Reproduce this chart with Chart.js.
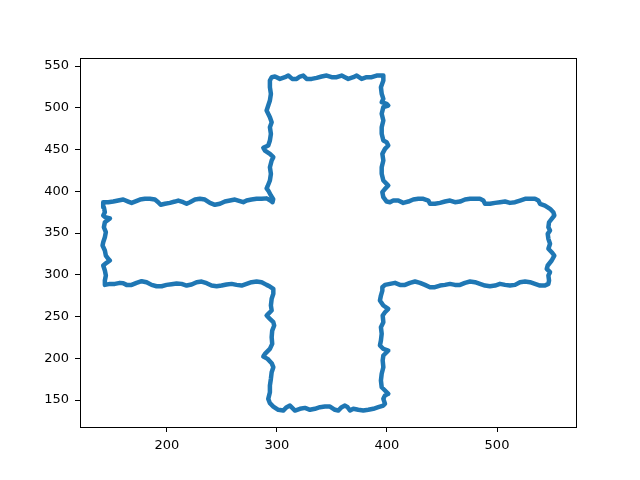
<!DOCTYPE html>
<html>
<head>
<meta charset="utf-8">
<script src="https://cdn.jsdelivr.net/npm/chart.js@4/dist/chart.umd.min.js"></script>
<style>
  html, body { margin: 0; padding: 0; background: #fff; }
  canvas { display: block; }
</style>
</head>
<body>
<canvas id="chart" width="640" height="480"></canvas>
<script>
// outline traced clockwise, one array of [x, y] per edge of the cross
const leftArmTop = [[142.1,386.9],[146.7,386.9],[151.2,387.7],[155.7,388.9],[160.3,390.1],[164.8,387.7],[167.9,386.1],[170.9,387.7],[175.5,390.1],[180,391],[184.5,391],[189.1,390.1],[192.1,386.9],[194.3,383.8],[198.2,385],[202.7,386.1],[207.3,387.7],[210.3,388.9],[214.8,386.9],[217.9,385],[220.9,386.9],[225.5,390.1],[230,391],[234.5,390.1],[239.1,386.1],[243.6,383.8],[248.2,385],[252.7,387.7],[257.3,388.9],[261.8,390.1],[264.8,388.9],[269.4,386.9],[272.4,388.9],[276.9,390.1],[281.5,391],[286.1,391],[290.6,391.5],[294,389],[296,387],[296.6,390.5],[294.5,395]];
const topArmLeft = [[292.1,400.9],[290.6,403.5],[291.5,406],[293.6,412.9],[294.5,420.9],[293.6,428.8],[295.2,436.8],[296.7,440.8],[293.6,444.8],[289.1,448.8],[287.6,452],[292.1,454.8],[293.6,460.8],[294.5,468.8],[293.6,476.7],[295.2,482.7],[293.6,488.7],[290.6,496.7],[292.1,502.7],[293.6,508.7],[294.5,516.7],[293.6,524.6],[293.6,532.6],[295.2,536.6]];
const topArmTop = [[298.2,537.4],[302.7,534.6],[307.3,536.6],[310.3,538.6],[313.9,534.6],[317.9,534.6],[320.9,537.4],[323.9,538.6],[327,534.6],[331.5,534.6],[336.1,535.8],[340.6,537.4],[345.2,538.6],[349.7,536.6],[354.3,536.6],[358.8,538.6],[361.8,536.6],[364.8,534.6],[369.4,536.6],[372.5,538.6],[377,534.6],[381.5,536.6],[386.1,536.6],[390.6,538.6],[396.7,538.6]];
const topArmRight = [[396.7,532.6],[394.5,524.6],[395.2,516.7],[396.7,510.7],[395.2,506.7],[399.7,504.7],[401.2,502.7],[396.7,500.8],[395.2,492.8],[396.7,484.7],[395.2,476.7],[395.2,468.8],[396.7,460.8],[399.7,458.8],[401.2,454.8],[398.2,450.8],[395.8,444.8],[396.7,436.8],[395.2,428.8],[395.2,420.9],[396.7,412.9],[399.7,408.9],[401.2,406.9],[398.2,402.9],[395.8,398.9],[396.7,392.9],[399.7,387.7]];
const rightArmTop = [[402.7,386.9],[405.7,388.9],[410.3,388.9],[414.8,386.1],[419.4,387.7],[423.9,390.1],[428.5,391],[433,391],[437.6,388.9],[439.1,385],[443.6,385],[448.2,386.1],[452.7,387.7],[457.3,388.9],[461.8,386.9],[466.4,387.7],[470.9,390.1],[475.5,391],[480,391],[484.5,391],[487.6,388.9],[489.1,385],[493.6,385],[498.2,386.1],[502.7,386.9],[507.3,387.7],[511.8,386.1],[516.4,386.9],[520.9,388.9],[525.5,391],[530,391],[534.5,391],[537.6,388.9],[539.1,385],[543.6,382.9],[548.2,379],[551.2,374.9],[552.1,371]];
const rightArmEnd = [[549.7,367],[547.3,362.9],[546.7,356.9],[548.2,353],[546.1,349],[546.7,343],[548.2,337.1],[546.7,331.1],[549.7,327],[552.1,323],[549.7,317.1],[546.1,311.1],[545.2,307.1],[548.2,303.1],[546.7,299.1],[547.3,293.1],[546.7,289.1],[543.6,287.1]];
const rightArmBottom = [[539.1,287.1],[534.5,289.1],[530,291.1],[525.5,291.9],[520.9,291.1],[516.4,287.9],[511.8,287.1],[507.3,287.9],[502.7,289.1],[498.2,287.1],[493.6,286.3],[489.1,287.1],[484.5,289.1],[480,291.1],[475.5,291.9],[470.9,290.3],[466.4,287.9],[461.8,287.9],[457.3,289.1],[452.7,287.9],[448.2,287.1],[443.6,285.1],[439.1,285.1],[434.5,287.9],[430,290.3],[425.5,291.9],[420.9,290.3],[416.4,287.9],[411.8,287.9],[407.3,290.3],[402.7,289.1],[398.2,287.9]];
const bottomArmRight = [[395.8,285.1],[395.8,281.1],[394.5,275.1],[393.6,269.2],[396.7,263.2],[401.2,259.2],[398.2,255.1],[396.1,251.2],[396.7,243.2],[394.5,237.2],[395.2,229.3],[394.5,221.3],[393.6,215.3],[396.7,211.3],[401.2,209.3],[399.7,207.2],[396.7,203.3],[396.1,197.3],[396.7,189.3],[395.2,181.4],[394.5,173.4],[395.2,165.3],[398.2,161.4],[401.2,157.4],[398.2,155.4],[396.7,151.4],[398.2,145.5],[396.7,143.4]];
const bottomArmBottom = [[392.1,141.4],[387.6,139.5],[383,138.3],[378.5,137.4],[373.9,138.3],[369.4,139.5],[366.4,137.4],[364.2,141.4],[361.8,143.4],[358.8,141.4],[355.7,137.4],[352.7,138.3],[348.2,142.2],[343.6,142.2],[339.1,141.4],[334.5,139.5],[330,138.3],[325.5,140.6],[320.9,139.5],[316.4,137.4],[313.9,140.6],[311.8,143.4],[308.8,141.4],[305.7,137.4],[301.2,138.3],[296.7,142.2],[293.6,146.2]];
const bottomArmLeft = [[292.1,151.4],[293.6,159.3],[293.6,167.4],[294.5,175.4],[295.2,183.3],[296.7,189.3],[295.2,194.1],[291.5,199.3],[287.6,202.1],[289.1,205.3],[293.6,211.3],[295.7,217.3],[295.2,225.2],[295.7,233.2],[297.5,239.2],[296.7,243.2],[293.6,247.2],[290.6,251.2],[292.1,253.2],[295.2,257.2],[294.5,263.2],[295.2,271.2],[296.7,277.2],[296.7,283.2],[293.6,285.9]];
const leftArmBottom = [[290.6,287.9],[286.1,291.1],[281.5,291.9],[276.9,291.1],[272.4,289.1],[267.9,287.1],[263.3,287.9],[258.8,289.1],[254.2,288.3],[249.7,287.1],[245.2,286.3],[240.6,287.1],[236.1,289.9],[231.5,291.9],[227,291.1],[222.4,288.3],[217.9,287.1],[213.3,289.1],[208.8,289.5],[204.2,288.7],[199.7,287.9],[195.2,286.3],[190.6,286.3],[186.1,287.9],[181.5,291.1],[177,292.3],[172.4,290.3],[167.9,287.9],[163.3,287.9],[160.3,289.9],[157.3,290.3],[152.7,289.1],[148.2,289.1],[143.6,287.9]];
const leftArmEnd = [[143.6,293.1],[144.5,299.1],[143.6,305.1],[142.1,311.1],[145.1,314.3],[148.2,317.1],[146.7,319.1],[144.5,323],[143.6,329],[141.5,335],[142.1,339],[143.6,345],[144.5,351],[142.7,356.9],[143.6,362.9],[146.7,366],[148.2,367.5],[144,369],[142.1,371],[143.6,374.9],[142.7,380.9],[142.1,386.9]];

const xTicks = [200, 300, 400, 500];
const yTicks = [150, 200, 250, 300, 350, 400, 450, 500, 550];

const outline = [].concat(
  leftArmTop, topArmLeft, topArmTop, topArmRight,
  rightArmTop, rightArmEnd, rightArmBottom,
  bottomArmRight, bottomArmBottom, bottomArmLeft,
  leftArmBottom, leftArmEnd
).map(p => ({ x: p[0], y: p[1] }));

// matplotlib-style box around the axes
const frame = {
  id: 'frame',
  afterDraw(chart) {
    const { ctx, chartArea: a } = chart;
    ctx.save();
    ctx.strokeStyle = '#000';
    ctx.lineWidth = 1;
    ctx.strokeRect(Math.round(a.left) + 0.5, Math.round(a.top) + 0.5,
      Math.round(a.right - a.left), Math.round(a.bottom - a.top));
    ctx.restore();
  }
};

const tickFont = { family: 'DejaVu Sans', size: 13 };

new Chart(document.getElementById('chart'), {
  type: 'line',
  data: {
    datasets: [{
      data: outline,
      borderColor: '#1f77b4',
      borderWidth: 4.5,
      borderJoinStyle: 'round',
      borderCapStyle: 'round',
      pointRadius: 0,
      tension: 0,
      fill: false
    }]
  },
  options: {
    responsive: false,
    animation: false,
    devicePixelRatio: 1,
    layout: { padding: { left: 0, top: 58, right: 64, bottom: 0 } },
    plugins: { legend: { display: false }, tooltip: { enabled: false } },
    scales: {
      x: {
        type: 'linear',
        min: 121,
        max: 571.8,
        afterBuildTicks: s => { s.ticks = xTicks.map(v => ({ value: v })); },
        afterFit: s => { s.height = 53; },
        border: { display: false },
        grid: { drawOnChartArea: false, drawTicks: true, tickLength: 5, color: '#000' },
        ticks: { color: '#000', font: tickFont, padding: 6, maxRotation: 0 }
      },
      y: {
        type: 'linear',
        min: 117.7,
        max: 559.6,
        afterBuildTicks: s => { s.ticks = yTicks.map(v => ({ value: v })); },
        afterFit: s => { s.width = 80; },
        border: { display: false },
        grid: { drawOnChartArea: false, drawTicks: true, tickLength: 5, color: '#000' },
        ticks: { color: '#000', font: tickFont, padding: 6 }
      }
    }
  },
  plugins: [frame]
});
</script>
</body>
</html>
